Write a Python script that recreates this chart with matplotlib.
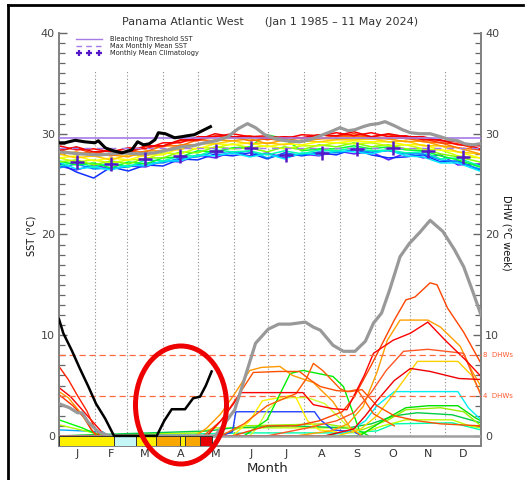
import matplotlib
matplotlib.use("Agg")
import matplotlib.pyplot as plt
from matplotlib.patches import Ellipse
from matplotlib.lines import Line2D

# x is day of year (0 = Jan 1), y is SST (degC) or DHW (degC week) on one shared scale
month_labels = ["J", "F", "M", "A", "M", "J", "J", "A", "S", "O", "N", "D"]
month_starts = [0, 31, 59, 90, 120, 151, 181, 212, 243, 273, 304, 334, 365]

clim_days = [15.5, 45, 74.5, 105, 135.5, 166, 196.5, 227.5, 258, 288.5, 319, 349.5]
clim_sst = [27.23, 27.0, 27.47, 27.8, 28.33, 28.56, 27.9, 28.13, 28.46, 28.56, 28.33, 27.73]
mmm_sst = 28.6
bleach_sst = 29.6

# alert bar 2024
alert_start = [0, 47.5, 66.3, 84.2, 105, 109.3, 121.6]
alert_end = [47.5, 66.3, 84.2, 105, 109.3, 121.6, 132.3]
alert_level = [1, 0, 1, 2, 1, 2, 3]
alert_colors = {0: "#c4f6f6", 1: "#fff000", 2: "#f8a600", 3: "#e80000"}

# ---- SST, past years (15 day samples) ----
sst_days = [0, 15, 30, 45, 60, 75, 90, 105, 120, 135, 150, 165, 180, 195, 210, 225, 240, 255, 270, 285, 300, 315, 330, 345, 364]
sst_1985 = [26.8, 26.4, 26.9, 26.5, 26.8, 26.7, 27.3, 27.2, 27.9, 27.6, 28.2, 27.8, 28.1, 27.6, 28.0, 27.8, 28.3, 28.0, 28.2, 27.4, 28.1, 27.6, 27.9, 26.9, 27.0]
sst_1987 = [27.1, 26.2, 25.6, 26.7, 26.3, 26.9, 26.8, 27.5, 27.4, 28.0, 27.8, 28.1, 27.5, 28.1, 27.8, 28.1, 27.9, 28.5, 27.9, 27.6, 27.7, 27.9, 27.2, 27.3, 26.4]
sst_1990 = [26.6, 27.0, 26.5, 26.6, 26.7, 27.1, 27.1, 27.6, 27.7, 28.2, 28.0, 28.3, 27.6, 28.0, 27.9, 28.2, 28.1, 28.4, 28.2, 28.3, 28.0, 28.0, 27.4, 27.2, 26.5]
sst_1992 = [27.2, 26.5, 26.7, 26.4, 26.9, 26.8, 27.3, 27.3, 27.9, 27.8, 28.1, 27.7, 28.0, 27.5, 28.1, 27.9, 28.3, 28.2, 28.0, 28.4, 27.8, 27.7, 27.1, 27.1, 26.3]
sst_1994 = [26.8, 27.2, 26.7, 27.1, 26.7, 27.4, 27.3, 27.8, 27.8, 28.4, 28.2, 28.3, 27.9, 28.3, 28.0, 28.4, 28.3, 28.6, 28.3, 28.4, 28.1, 28.2, 27.5, 27.6, 26.8]
sst_1996 = [27.3, 26.9, 27.1, 26.6, 27.2, 27.0, 27.6, 27.7, 28.3, 28.2, 28.6, 28.7, 29.9, 29.5, 28.3, 28.5, 28.5, 28.8, 28.5, 28.7, 28.4, 28.3, 27.8, 27.4, 26.7]
sst_1998 = [27.2, 27.4, 26.9, 27.3, 27.0, 27.6, 27.6, 28.2, 28.1, 28.7, 28.5, 28.6, 28.2, 28.7, 28.4, 28.9, 28.7, 29.1, 28.7, 28.9, 28.5, 28.5, 28.0, 27.7, 27.2]
sst_2001 = [27.6, 27.2, 27.4, 27.1, 27.4, 27.5, 28.1, 28.0, 28.6, 28.6, 29.0, 28.6, 28.8, 28.5, 28.8, 28.8, 29.1, 29.0, 29.1, 28.8, 28.9, 28.5, 28.4, 27.8, 27.6]
sst_2004 = [27.6, 27.8, 27.3, 27.6, 27.4, 27.9, 27.9, 28.6, 28.5, 29.0, 28.9, 29.1, 28.7, 29.0, 28.9, 29.2, 29.1, 29.3, 29.2, 29.2, 28.9, 28.9, 28.4, 28.2, 27.6]
sst_2008 = [28.0, 27.6, 27.8, 27.4, 27.9, 27.8, 28.4, 28.4, 29.0, 29.0, 29.3, 29.0, 29.1, 28.9, 29.3, 29.2, 29.4, 29.4, 29.5, 29.2, 29.3, 28.8, 28.8, 28.2, 28.0]
sst_2012 = [28.0, 28.2, 27.8, 27.9, 27.7, 28.3, 28.3, 28.9, 28.9, 29.4, 29.3, 29.5, 29.0, 29.4, 29.2, 29.5, 29.5, 29.6, 29.5, 29.5, 29.2, 29.3, 28.8, 28.6, 28.0]
sst_2015 = [28.4, 28.0, 28.2, 27.8, 28.2, 28.2, 28.8, 28.8, 29.4, 29.3, 29.7, 29.3, 29.5, 29.3, 29.6, 29.5, 29.8, 29.7, 29.7, 29.5, 29.6, 29.2, 29.1, 28.6, 28.4]
sst_2019 = [28.4, 28.6, 28.0, 28.4, 28.1, 28.7, 28.7, 29.3, 29.3, 29.8, 29.6, 29.8, 29.4, 29.7, 29.5, 29.9, 29.7, 30.0, 29.7, 29.9, 29.5, 29.5, 29.1, 29.0, 28.4]
sst_2020 = [28.8, 28.4, 28.5, 28.2, 28.6, 28.5, 29.1, 29.1, 29.7, 29.7, 30.0, 29.7, 29.8, 29.5, 29.9, 29.8, 30.1, 29.8, 30.1, 29.7, 29.8, 29.4, 29.4, 28.9, 28.8]
sst_2022 = [28.3, 28.7, 28.2, 28.3, 28.2, 28.8, 28.8, 29.4, 29.4, 30.0, 29.7, 29.7, 29.6, 29.7, 29.6, 29.9, 29.8, 30.2, 29.7, 30.0, 29.7, 29.7, 29.3, 29.2, 28.5]

# ---- 2023 (gray) and 2024 (black) ----
sst23_days = [0, 18, 35, 54, 70, 83, 95, 106, 116, 126, 136, 146, 155, 163, 170, 178, 187, 196, 208, 217, 226, 235, 243, 250, 256, 263, 269, 276, 282, 290, 297, 304, 312, 321, 330, 338, 345, 351, 358, 364]
sst23_vals = [28.2, 28.0, 27.9, 28.1, 28.0, 28.1, 28.4, 28.7, 28.8, 29.1, 29.3, 29.7, 30.5, 31.0, 30.6, 29.9, 29.5, 29.3, 29.2, 29.4, 29.8, 30.2, 30.6, 30.3, 30.4, 30.7, 30.9, 31.0, 31.2, 30.8, 30.4, 30.1, 30.0, 30.0, 29.7, 29.4, 29.3, 29.0, 28.9, 29.0]
sst24_days = [0, 5, 14, 22, 31, 34, 40, 47, 54.5, 63, 68, 73, 78, 83, 86, 92, 100, 106, 111, 117, 124, 131]
sst24_vals = [29.1, 29.1, 29.35, 29.2, 29.1, 29.3, 28.6, 28.3, 28.1, 28.4, 29.2, 28.9, 29.0, 29.4, 30.1, 30.0, 29.6, 29.7, 29.8, 29.9, 30.3, 30.7]

dhw23_days = [0, 9, 16, 20, 25, 34, 44, 135, 143, 152, 160, 170, 181, 190, 200, 213, 220, 226, 237, 246, 256, 265, 272, 279, 286, 295, 303, 312, 321, 332, 342, 350, 358, 365]
dhw23_vals = [3.2, 2.8, 2.3, 2.3, 1.4, 0.4, 0, 0, 1.2, 2.6, 5.5, 9.2, 10.6, 11.1, 11.1, 11.3, 10.8, 10.5, 9.0, 8.4, 8.4, 9.4, 11.2, 12.2, 14.5, 17.8, 19.1, 20.2, 21.4, 20.3, 18.5, 16.8, 14.3, 12.0]
dhw24_days = [0, 3.7, 11, 18, 25.4, 32, 39.8, 47.6, 84.5, 91, 97.5, 109, 116, 122, 127, 132]
dhw24_vals = [11.6, 10.2, 8.5, 6.7, 4.9, 3.2, 1.75, 0, 0, 1.5, 2.65, 2.65, 3.74, 3.9, 5.0, 6.4]

# ---- DHW, past years ----
dhw_a_days = [0, 8, 16, 24, 30, 35];  dhw_a_vals = [6.9, 5.6, 4.0, 2.5, 1.0, 0]
dhw_b_days = [0, 10, 20, 30, 40];     dhw_b_vals = [4.8, 3.9, 2.6, 1.3, 0]
dhw_c_days = [0, 8, 18, 26, 32];      dhw_c_vals = [4.4, 3.8, 2.4, 1.0, 0]
dhw_d_days = [0, 12, 22, 28, 33];     dhw_d_vals = [4.1, 3.0, 1.8, 0.6, 0]
dhw_e_days = [0, 10, 20, 30, 36];     dhw_e_vals = [1.6, 1.2, 0.8, 0.3, 0]
dhw_f_days = [0, 15, 30, 38];         dhw_f_vals = [1.1, 0.7, 0.3, 0]
dhw_g_days = [0, 20, 38, 42];         dhw_g_vals = [0.6, 0.5, 0.4, 0]
dhw_h_days = [0, 118, 128, 140, 152, 165, 175, 191, 202, 220, 237, 252, 262]
dhw_h_vals = [0, 0, 0.8, 2.2, 4.2, 6.5, 6.8, 6.9, 6.0, 5.3, 3.4, 0.8, 0]
dhw_i_days = [0, 125, 140, 155, 168, 190, 208, 218, 226, 240, 252, 262, 275, 290, 310, 330, 365]
dhw_i_vals = [0, 0, 1.5, 4.0, 6.3, 6.4, 6.4, 5.5, 4.9, 4.5, 4.4, 4.6, 3.0, 2.0, 1.5, 1.2, 1.0]
dhw_j_days = [0, 128, 140, 151, 157, 211, 220, 237, 249, 264, 272, 289, 304, 319, 334, 352, 365]
dhw_j_vals = [0, 0, 1.5, 3.2, 4.3, 4.3, 3.1, 2.7, 2.6, 6.0, 8.2, 9.5, 10.2, 11.3, 9.5, 7.5, 5.9]
dhw_k_days = [0, 150, 165, 180, 205, 225, 245, 255, 270, 290, 300, 308, 321, 327, 336, 350, 365]
dhw_k_vals = [0, 0, 0.5, 1.0, 1.0, 1.5, 2.4, 3.8, 7.0, 11.5, 13.5, 13.8, 15.2, 15.0, 12.7, 10.3, 7.2]
dhw_l_days = [0, 205, 235, 250, 263, 275, 284, 295, 319, 330, 347, 357, 365]
dhw_l_vals = [0, 0, 0.5, 1.2, 2.9, 6.3, 9.5, 11.5, 11.5, 10.8, 8.9, 6.5, 4.9]
dhw_m_days = [0, 180, 215, 240, 255, 270, 283, 298, 319, 350, 365]
dhw_m_vals = [0, 0, 0.8, 1.5, 2.3, 4.3, 6.5, 8.4, 8.6, 8.2, 4.0]
dhw_n_days = [0, 240, 260, 275, 285, 298, 310, 345, 357, 365]
dhw_n_vals = [0, 0, 0.6, 2.0, 3.5, 5.5, 7.4, 7.4, 6.0, 4.2]
dhw_o_days = [0, 230, 255, 265, 275, 290, 304, 321, 346, 365]
dhw_o_vals = [0, 0, 0.7, 2.0, 3.5, 5.5, 6.7, 6.4, 5.7, 5.6]
dhw_p_days = [0, 230, 250, 265, 275, 290, 345, 354, 365]
dhw_p_vals = [0, 0, 0.4, 1.5, 3.0, 4.4, 4.4, 2.8, 1.6]
dhw_q_days = [0, 160, 180, 200, 211, 237, 246, 260, 268]
dhw_q_vals = [0, 0, 1.6, 6.2, 6.5, 5.9, 4.9, 0.5, 0]
dhw_r_days = [0, 140, 160, 180, 205, 214, 220, 228, 243, 249, 258, 272, 290]
dhw_r_vals = [0, 0, 1.2, 3.0, 4.2, 5.7, 7.2, 6.5, 4.7, 4.4, 4.6, 2.2, 1.0]
dhw_s_days = [0, 150, 165, 176, 200, 205, 215, 225, 240]
dhw_s_vals = [0, 0, 1.5, 3.5, 4.0, 3.8, 1.5, 0.6, 0.4]
dhw_t_days = [0, 140, 150, 153, 221, 226, 237, 255, 262]
dhw_t_vals = [0, 0, 0.4, 2.4, 2.4, 1.6, 0.6, 0.4, 0]
dhw_u_days = [0, 165, 172, 180, 190, 200, 215, 230, 245, 255]
dhw_u_vals = [0, 0, 0.9, 2.5, 3.6, 3.8, 3.8, 3.2, 1.5, 0.3]
dhw_v_days = [0, 130, 150, 200, 250, 270, 290, 310, 340, 365]
dhw_v_vals = [0, 0.5, 0.8, 1.0, 0.8, 1.2, 2.0, 2.3, 2.1, 1.3]
dhw_w_days = [0, 140, 160, 230, 262, 285, 300, 330, 350, 365]
dhw_w_vals = [0, 0, 1.0, 1.2, 0.6, 1.6, 2.6, 2.8, 2.4, 1.0]
dhw_x_days = [0, 120, 135, 250, 260, 280, 300, 340, 355, 365]
dhw_x_vals = [0, 0.3, 0.8, 0.8, 0.2, 1.0, 1.6, 1.6, 1.0, 0.8]
dhw_y_days = [0, 170, 250, 275, 290, 340, 365]
dhw_y_vals = [0, 0.3, 0.3, 0.5, 1.2, 1.3, 0.6]
dhw_z_days = [0, 260, 280, 300, 320, 345, 360, 365]
dhw_z_vals = [0, 0, 1.5, 2.8, 3.0, 3.0, 1.8, 1.5]

sst_lines = [
    (sst_1985, "#6020ff"), (sst_1987, "#1030ff"), (sst_1990, "#0090ff"),
    (sst_1992, "#00e8ff"), (sst_1994, "#00ffb0"), (sst_1996, "#00ff30"),
    (sst_1998, "#80ff00"), (sst_2001, "#ccff00"), (sst_2004, "#ffff00"),
    (sst_2008, "#ffcc00"), (sst_2012, "#ffa000"), (sst_2015, "#ff7000"),
    (sst_2019, "#ff3c00"), (sst_2020, "#ff0000"), (sst_2022, "#ee0000"),
]
dhw_lines = [
    (dhw_y_days, dhw_y_vals, "#00ffaa"), (dhw_x_days, dhw_x_vals, "#bbff00"),
    (dhw_v_days, dhw_v_vals, "#00cc44"), (dhw_w_days, dhw_w_vals, "#99ee00"),
    (dhw_z_days, dhw_z_vals, "#00e000"), (dhw_g_days, dhw_g_vals, "#00a8ff"),
    (dhw_f_days, dhw_f_vals, "#aaff00"), (dhw_e_days, dhw_e_vals, "#00ff00"),
    (dhw_t_days, dhw_t_vals, "#2040ff"), (dhw_u_days, dhw_u_vals, "#ccff33"),
    (dhw_s_days, dhw_s_vals, "#ffee00"), (dhw_q_days, dhw_q_vals, "#00ee00"),
    (dhw_p_days, dhw_p_vals, "#00eeee"), (dhw_n_days, dhw_n_vals, "#ffd000"),
    (dhw_h_days, dhw_h_vals, "#ff9900"), (dhw_c_days, dhw_c_vals, "#ff9900"),
    (dhw_l_days, dhw_l_vals, "#ffa000"), (dhw_i_days, dhw_i_vals, "#ff5000"),
    (dhw_r_days, dhw_r_vals, "#ff5a00"), (dhw_m_days, dhw_m_vals, "#ff5522"),
    (dhw_k_days, dhw_k_vals, "#ff4400"), (dhw_o_days, dhw_o_vals, "#ee0000"),
    (dhw_j_days, dhw_j_vals, "#ff0000"), (dhw_d_days, dhw_d_vals, "#ff3000"),
    (dhw_b_days, dhw_b_vals, "#ff0000"), (dhw_a_days, dhw_a_vals, "#ff2000"),
]

W, H = 528, 480
def fx(px): return px / W
def fy(py): return 1 - py / H

fig = plt.figure(figsize=(W / 100, H / 100), dpi=100)
ax = fig.add_axes([fx(59), fy(446), (481 - 59) / W, (446 - 33) / H])
ax.set_xlim(0, 365)
ax.set_ylim(-1, 40)

# month grid
ax.vlines(month_starts[1:-1], 0, 36.3, colors="#8a8a8a", linestyles=(0, (1, 2)), lw=0.8, zorder=1)

for vals, c in sst_lines:
    ax.plot(sst_days, vals, color=c, lw=1.1, zorder=2)
for d, v, c in dhw_lines:
    ax.plot(d, v, color=c, lw=1.0, zorder=2)

ax.axhline(0, color="#a0a0a0", lw=1.8, zorder=3)
ax.axhline(bleach_sst, color="#a47ae6", lw=1.2, zorder=3)
ax.axhline(mmm_sst, color="#a47ae6", lw=1.0, ls=(0, (5, 4)), zorder=3)
ax.axhline(8, color="#ff6a40", lw=0.9, ls=(0, (5, 3)), zorder=3)
ax.axhline(4, color="#ff6a40", lw=0.9, ls=(0, (5, 3)), zorder=3)
ax.text(367, 8, "8  DHWs", color="#ff5a30", fontsize=5, va="center", ha="left", clip_on=False)
ax.text(367, 4, "4  DHWs", color="#ff5a30", fontsize=5, va="center", ha="left", clip_on=False)

ax.plot(sst23_days, sst23_vals, color="#999999", lw=2.3, zorder=4)
ax.plot(dhw23_days, dhw23_vals, color="#999999", lw=2.3, zorder=4)
ax.plot(sst24_days, sst24_vals, color="black", lw=2.2, zorder=5)
ax.plot(dhw24_days, dhw24_vals, color="black", lw=1.8, zorder=5)

ax.plot(clim_days, clim_sst, ls="none", marker="+", ms=10, mew=1.8, color="#5518c8", zorder=6)

for s, e, lv in zip(alert_start, alert_end, alert_level):
    ax.bar(s, 1, width=e - s, bottom=-1, align="edge", color=alert_colors[lv],
           edgecolor="#333333", linewidth=0.7, zorder=4)

# axes styling
for side in ["left", "right", "bottom"]:
    ax.spines[side].set_color("#808080")
    ax.spines[side].set_linewidth(1.4)
ax.spines["top"].set_visible(False)
ax.set_yticks([0, 10, 20, 30, 40])
ax.set_yticks(range(0, 41), minor=True)
ax.tick_params(axis="y", which="both", direction="in", left=True, right=True,
               labelleft=True, labelright=True, color="#666666", labelcolor="#444444",
               labelsize=8, pad=3)
ax.tick_params(axis="y", which="major", length=6, width=1)
ax.tick_params(axis="y", which="minor", length=4, width=0.9)
centers = [(a + b) / 2 for a, b in zip(month_starts[:-1], month_starts[1:])]
ax.set_xticks(centers)
ax.set_xticklabels(month_labels)
ax.tick_params(axis="x", length=0, pad=2, labelsize=8, labelcolor="#333333")

# legend
fig.add_artist(Line2D([fx(76), fx(102)], [fy(39), fy(39)], color="#a47ae6", lw=1.0))
fig.add_artist(Line2D([fx(76), fx(102)], [fy(46), fy(46)], color="#a47ae6", lw=1.0, ls=(0, (4, 3))))
fig.add_artist(Line2D([fx(79), fx(89), fx(99)], [fy(53)] * 3, ls="none", marker="+", ms=5,
                      mew=1.6, color="#5518c8"))
fig.text(fx(110), fy(39), "Bleaching Threshold SST", fontsize=4.8, va="center", color="#222222")
fig.text(fx(110), fy(46), "Max Monthly Mean SST", fontsize=4.8, va="center", color="#222222")
fig.text(fx(110), fy(53), "Monthly Mean Climatology", fontsize=4.8, va="center", color="#222222")

fig.text(fx(270), fy(22), "Panama Atlantic West      (Jan 1 1985 \u2013 11 May 2024)",
         fontsize=8, ha="center", va="center", color="#333333")
fig.text(fx(31), fy(236), "SST (\u00b0C)", rotation=90, fontsize=7, ha="center", va="center", color="#111111")
fig.text(fx(507), fy(233), "DHW (\u00b0C week)", rotation=270, fontsize=7, ha="center", va="center", color="#111111")
fig.text(fx(268), fy(469), "Month", fontsize=9.5, ha="center", va="center", color="#222222")

# outer frame and highlight ring
fig.add_artist(Line2D([fx(8), fx(523)], [fy(5), fy(5)], color="black", lw=2))
fig.add_artist(Line2D([fx(8), fx(8)], [fy(5), 0], color="black", lw=2))
fig.add_artist(Ellipse((fx(181), fy(405)), 91 / W, 118 / H, transform=fig.transFigure,
                       fill=False, ec="#ee0000", lw=3.6, zorder=20))

fig.savefig("out.png", dpi=100, facecolor="white")
